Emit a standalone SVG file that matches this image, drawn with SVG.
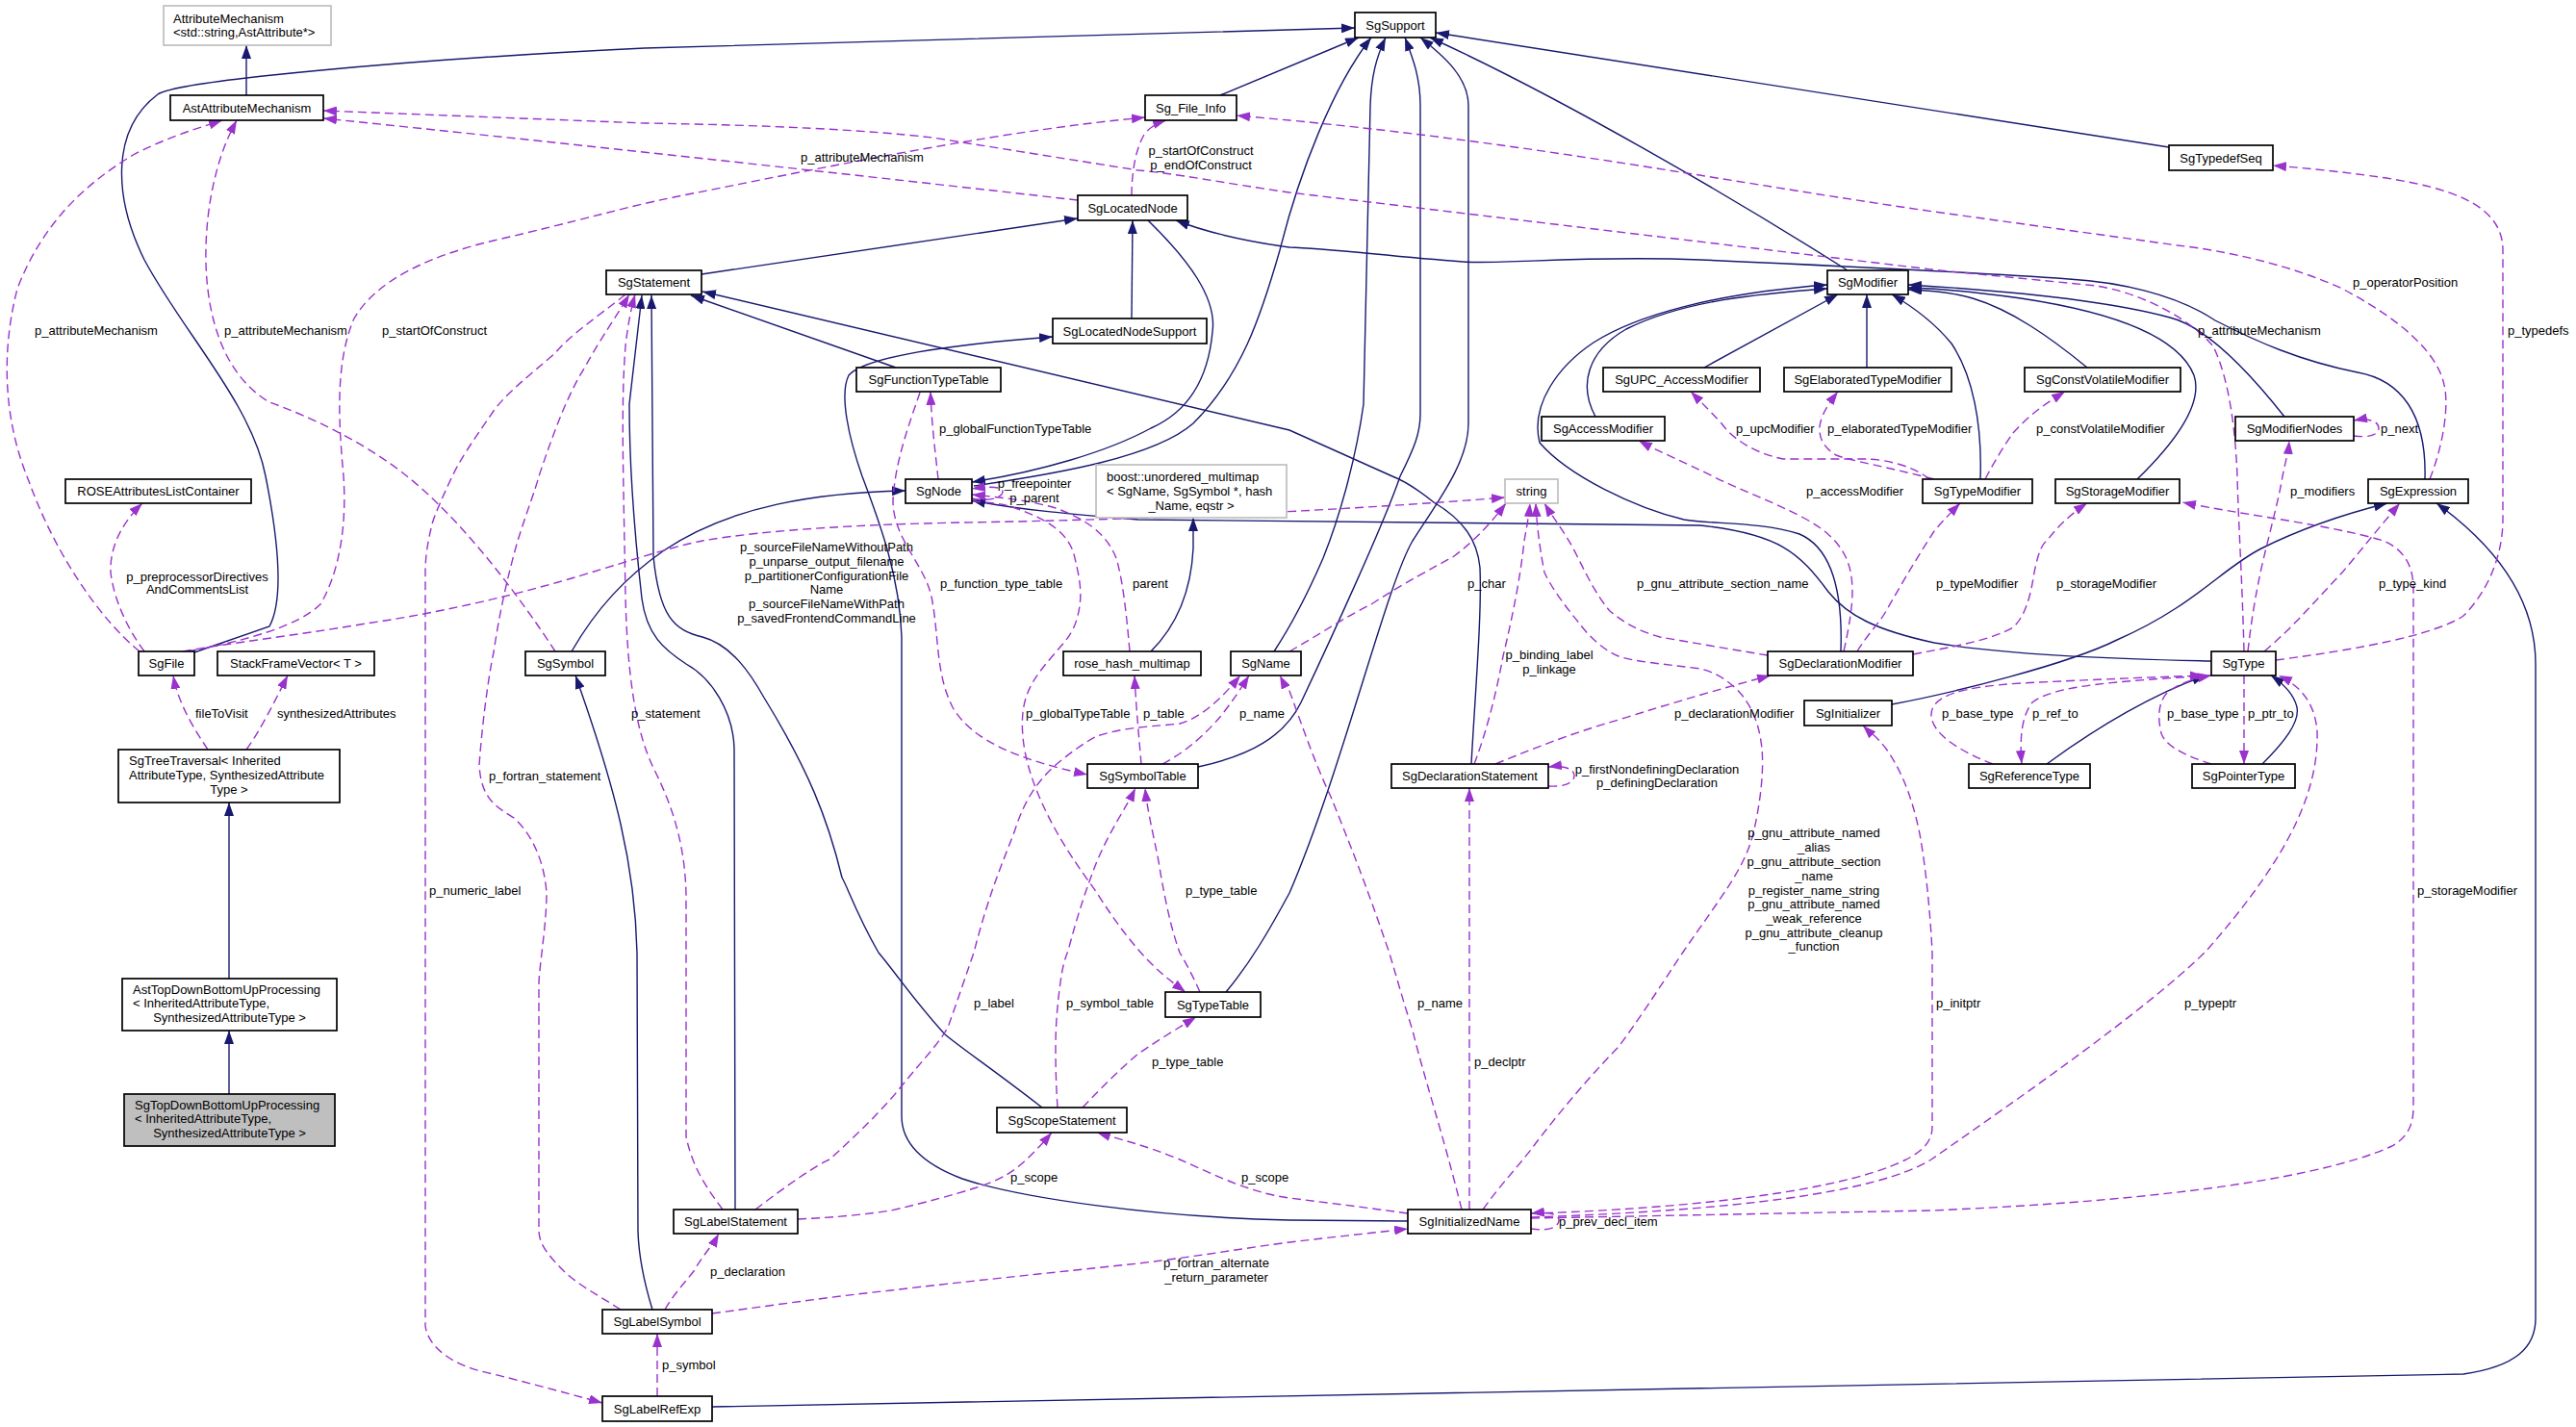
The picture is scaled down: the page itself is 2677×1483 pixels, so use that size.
<svg xmlns="http://www.w3.org/2000/svg" width="2677" height="1483" viewBox="0 0 2677 1483">
<style>
text{font-family:"Liberation Sans",Arial,sans-serif;font-size:13px;fill:#000}
.node rect{fill:#fff;stroke:#000;stroke-width:1.7}
.node.ext rect{stroke:#bfbfbf}
.node.cur rect{fill:#bfbfbf}
.node text{text-anchor:middle}
.node text.l{text-anchor:start}
.inh{fill:none;stroke:#191970;stroke-width:1.4;marker-end:url(#an)}
.use{fill:none;stroke:#9a32cd;stroke-width:1.4;stroke-dasharray:9,5;marker-end:url(#ap)}
.lbl text{text-anchor:start}
.lbl text.m{text-anchor:middle}
</style>
<defs>
<marker id="an" viewBox="0 0 14 10" refX="14" refY="5" markerWidth="14" markerHeight="10" markerUnits="userSpaceOnUse" orient="auto"><path d="M0,0 L14,5 L0,10 z" fill="#191970"/></marker>
<marker id="ap" viewBox="0 0 14 10" refX="14" refY="5" markerWidth="14" markerHeight="10" markerUnits="userSpaceOnUse" orient="auto"><path d="M0,0 L14,5 L0,10 z" fill="#9a32cd"/></marker>
</defs>
<rect width="2677" height="1483" fill="#fff"/>
<g id="edges">
<path class="inh" d="M256,99 L256,47"/>
<path class="inh" d="M238,1017 L238,834"/>
<path class="inh" d="M238,1137 L238,1071"/>
<path class="inh" d="M202,678 L280,651 C294,625 291,570 276,495 C262,420 190,345 150,270 C118,205 115,135 164,98 C185,84 420,62 670,50 L1408,29"/>
<path class="inh" d="M1268,99 L1412,39"/>
<path class="inh" d="M1012,505 C1100,492 1200,475 1240,440 C1290,390 1310,330 1330,260 C1350,180 1385,90 1425,39"/>
<path class="inh" d="M1193,229 C1235,270 1265,310 1260,345 C1255,400 1230,430 1196,445 C1150,470 1080,490 1010,501"/>
<path class="inh" d="M1324,677 C1345,645 1362,610 1375,580 C1395,530 1410,470 1417,420 L1424,110 C1425,80 1430,60 1440,39"/>
<path class="inh" d="M1245,797 C1300,785 1335,765 1352,730 C1385,660 1440,540 1455,495 C1470,465 1476,450 1476,430 L1476,110 C1476,80 1468,60 1460,39"/>
<path class="inh" d="M1274,1031 C1300,1000 1320,965 1340,928 C1395,800 1440,610 1468,562 C1495,520 1526,480 1526,440 L1526,110 C1526,80 1500,58 1476,39"/>
<path class="inh" d="M1920,281 C1800,205 1620,100 1486,39"/>
<path class="inh" d="M2254,153 L1492,34"/>
<path class="inh" d="M729,285 L1120,227"/>
<path class="inh" d="M1176,331 L1177,229"/>
<path class="inh" d="M2520,498 C2522,430 2495,395 2450,387 C2390,375 2345,355 2302,333 C2260,305 2200,293 2150,290 C2050,283 1950,278 1767,270 C1650,265 1560,275 1520,272 C1440,266 1380,258 1340,257 C1290,250 1255,242 1222,229"/>
<path class="inh" d="M931,382 L718,307"/>
<path class="inh" d="M1529,794 C1533,720 1540,640 1538,590 C1535,560 1520,540 1490,522 C1475,510 1460,500 1447,495 L1340,447 L730,303"/>
<path class="inh" d="M764,1257 L763,778 C762,740 740,705 713,690 C690,675 672,660 667,622 C660,560 654,480 654,420 L667,307"/>
<path class="inh" d="M1083,1151 C1030,1110 1000,1090 982,1075 C950,1040 930,1010 913,990 C890,950 880,920 875,912 C860,850 840,800 794,725 C780,700 760,670 730,662 C700,655 685,640 679,578 L677,307"/>
<path class="inh" d="M1463,1269 L1340,1268 C1200,1265 1060,1245 1000,1225 C955,1208 937,1185 937,1160 L937,662 C935,600 915,545 896,495 C882,455 872,410 882,390 C900,370 990,358 1094,350"/>
<path class="inh" d="M594,677 C620,632 650,600 690,572 C760,525 850,512 941,510"/>
<path class="inh" d="M678,1361 C670,1335 664,1310 663,1280 L662,990 C660,900 640,820 598,702"/>
<path class="inh" d="M740,1462 L2560,1428 C2615,1420 2635,1400 2635,1370 L2635,690 C2635,620 2590,565 2532,523"/>
<path class="inh" d="M1966,732 C2030,720 2150,690 2200,665 C2280,630 2310,590 2350,570 C2400,545 2445,532 2481,523"/>
<path class="inh" d="M2298,687 C2200,685 2080,680 2010,668 C1950,655 1920,640 1900,615 C1870,575 1850,555 1767,546 L1183,540 C1120,535 1060,530 1010,520"/>
<path class="inh" d="M1913,677 C1915,620 1905,570 1870,555 C1830,542 1780,545 1750,540 C1700,528 1630,495 1600,460 C1590,420 1620,380 1656,356 C1700,328 1780,305 1899,296"/>
<path class="inh" d="M1658,433 C1640,400 1650,365 1690,342 C1750,312 1830,305 1899,300"/>
<path class="inh" d="M1771,382 L1910,306"/>
<path class="inh" d="M1940,382 L1940,306"/>
<path class="inh" d="M2058,498 C2060,440 2050,390 2028,357 C2010,335 1990,320 1966,306"/>
<path class="inh" d="M2169,382 C2130,350 2090,322 2050,310 C2030,304 2010,302 1983,301"/>
<path class="inh" d="M2221,498 C2260,460 2290,420 2280,390 C2262,345 2180,322 2100,310 C2050,303 2020,300 1983,299"/>
<path class="inh" d="M2374,433 C2340,390 2295,340 2255,330 C2200,315 2100,303 1983,296"/>
<path class="inh" d="M1196,677 C1225,648 1238,610 1240,570 L1240,538"/>
<path class="inh" d="M2127,794 C2180,755 2240,720 2292,702"/>
<path class="inh" d="M2351,794 C2375,770 2390,750 2387,735 C2384,722 2375,712 2360,702"/>

<path class="use" d="M145,677 C100,640 55,570 30,500 C5,440 0,370 18,300 C45,230 90,190 140,160 C180,140 210,132 231,125"/>
<path class="use" d="M577,677 C540,620 480,540 423,495 C380,460 320,432 280,418 C215,380 205,280 220,200 C228,160 238,140 246,125"/>
<path class="use" d="M195,677 C260,665 310,650 333,628 C355,590 360,540 357,495 C352,440 348,380 367,333 C390,290 450,265 513,250 C600,230 650,215 700,205 C900,165 1050,135 1190,122"/>
<path class="use" d="M190,677 C240,668 310,660 380,648 C450,638 520,622 580,605 C640,588 690,570 730,562 C800,550 900,545 1000,543 C1200,540 1400,530 1564,517"/>
<path class="use" d="M150,677 C130,650 118,620 115,595 C114,570 125,545 148,523"/>
<path class="use" d="M216,779 C200,755 185,730 180,702"/>
<path class="use" d="M256,779 C270,760 285,730 299,702"/>
<path class="use" d="M1120,208 C900,183 600,150 336,123"/>
<path class="use" d="M2332,677 C2330,600 2326,540 2325,495 C2322,420 2310,380 2300,360 C2280,335 2230,305 2178,297 L2007,280 L1340,200 C1270,190 1220,180 1183,177 L969,143 C900,135 800,130 670,128 L336,115"/>
<path class="use" d="M1176,203 C1176,180 1180,155 1189,140 C1195,132 1202,128 1212,125"/>
<path class="use" d="M1010,518 C1030,522 1042,516 1042,511 C1042,506 1030,505 1010,508"/>
<path class="use" d="M1174,677 C1170,630 1166,600 1160,580 C1150,555 1130,540 1097,528 C1070,520 1040,517 1010,514"/>
<path class="use" d="M956,408 C945,440 930,480 928,520 C928,560 960,585 968,620 C976,660 972,700 990,735 C1010,770 1060,790 1130,805"/>
<path class="use" d="M975,498 C972,470 968,440 967,407"/>
<path class="use" d="M1010,521 C1030,522 1045,524 1055,528 C1090,540 1112,555 1117,580 C1123,605 1125,620 1120,640 C1115,660 1105,668 1097,678 C1078,700 1066,715 1063,740 C1060,770 1068,800 1080,828 C1098,870 1120,900 1140,928 C1160,960 1180,985 1195,1000 C1210,1015 1220,1022 1232,1031"/>
<path class="use" d="M1186,794 C1184,770 1181,740 1179,702"/>
<path class="use" d="M1208,794 C1235,780 1255,760 1268,745 C1280,730 1290,715 1298,702"/>
<path class="use" d="M785,1257 C820,1230 850,1210 862,1205 C890,1180 920,1150 935,1131 C960,1100 980,1080 986,1065 C995,1040 1005,1010 1012,990 C1030,920 1045,890 1055,862 C1065,830 1080,810 1097,795 C1115,780 1130,770 1140,765 C1170,755 1200,755 1226,752 C1250,745 1270,725 1289,702"/>
<path class="use" d="M1519,1257 C1500,1180 1480,1120 1468,1071 C1455,1030 1450,1010 1443,988 C1420,920 1400,870 1383,828 C1365,790 1350,745 1340,718 C1336,712 1333,708 1330,702"/>
<path class="use" d="M1340,677 C1370,660 1400,640 1425,628 C1460,605 1490,590 1511,578 C1535,560 1552,540 1565,523"/>
<path class="use" d="M1532,794 C1545,760 1555,720 1562,682 C1572,640 1580,600 1584,562 C1587,545 1589,535 1590,523"/>
<path class="use" d="M1837,681 C1800,675 1760,668 1725,662 C1700,655 1685,645 1673,635 C1660,620 1650,600 1639,578 C1628,555 1615,540 1605,523"/>
<path class="use" d="M1541,1257 C1560,1230 1580,1210 1596,1188 C1625,1150 1660,1110 1682,1088 C1710,1050 1735,1010 1750,988 C1790,930 1815,900 1823,862 C1830,830 1833,800 1831,778 C1828,750 1820,735 1810,722 C1795,705 1780,698 1767,695 C1730,690 1700,688 1682,682 C1665,675 1650,660 1639,645 C1625,628 1612,610 1605,595 C1600,570 1597,545 1596,523"/>
<path class="use" d="M1554,794 C1600,775 1640,760 1682,748 C1740,730 1790,715 1840,702"/>
<path class="use" d="M1609,817 C1625,818 1636,814 1636,806 C1636,799 1625,795 1609,797"/>
<path class="use" d="M1916,677 C1922,650 1925,630 1925,615 C1925,585 1916,560 1874,538 C1840,520 1810,510 1780,495 C1750,480 1725,470 1703,458"/>
<path class="use" d="M1930,677 C1940,660 1955,645 1960,635 C1980,600 1995,575 2010,552 C2020,540 2030,530 2037,523"/>
<path class="use" d="M1988,680 C2030,672 2070,665 2092,652 C2105,640 2110,620 2114,595 C2118,575 2122,565 2127,562 C2140,545 2155,532 2169,523"/>
<path class="use" d="M2005,498 C1990,485 1960,477 1938,477 L1853,477 C1820,470 1800,455 1789,440 C1775,425 1765,415 1757,407"/>
<path class="use" d="M2010,498 C1960,485 1920,478 1908,473 C1895,465 1890,455 1891,443 C1893,430 1900,420 1910,407"/>
<path class="use" d="M2063,498 C2075,475 2085,460 2092,450 C2110,430 2125,420 2146,407"/>
<path class="use" d="M1591,1266 L2007,1258 C2200,1250 2400,1230 2486,1191 C2505,1180 2508,1165 2508,1150 L2508,612 C2508,590 2500,572 2477,562 C2420,545 2330,535 2268,522"/>
<path class="use" d="M1591,1265 C1800,1258 1950,1240 2007,1205 C2100,1140 2230,1050 2293,988 C2370,900 2410,830 2408,760 C2406,735 2395,715 2368,702"/>
<path class="use" d="M1591,1261 C1700,1258 1900,1245 1981,1205 C2000,1195 2008,1185 2008,1171 L2008,990 C2005,930 1998,880 1994,862 C1985,820 1972,795 1960,778 C1950,765 1942,760 1936,754"/>
<path class="use" d="M1591,1277 C1610,1280 1620,1275 1620,1268 C1620,1262 1610,1259 1591,1261"/>
<path class="use" d="M1527,1257 L1527,819"/>
<path class="use" d="M1463,1261 C1420,1255 1380,1250 1340,1245 C1300,1240 1260,1220 1226,1205 C1190,1190 1160,1183 1140,1177"/>
<path class="use" d="M829,1267 C870,1265 900,1262 926,1258 C960,1250 990,1242 1012,1235 C1035,1228 1045,1222 1055,1215 C1070,1203 1082,1190 1093,1177"/>
<path class="use" d="M1099,1151 C1097,1120 1097,1100 1097,1088 C1097,1060 1100,1035 1102,1021 C1104,1005 1107,995 1110,988 C1120,950 1130,920 1140,895 C1155,860 1170,840 1180,819"/>
<path class="use" d="M1125,1151 C1145,1130 1165,1110 1183,1095 C1205,1080 1225,1068 1243,1057"/>
<path class="use" d="M1247,1031 C1240,1015 1232,1000 1226,990 C1215,960 1208,920 1204,895 C1198,865 1192,840 1190,819"/>
<path class="use" d="M691,1361 C700,1345 710,1335 721,1321 C730,1305 740,1295 747,1282"/>
<path class="use" d="M740,1365 C800,1357 860,1348 926,1341 C1000,1332 1100,1322 1183,1313 C1250,1305 1300,1296 1340,1291 C1390,1285 1420,1282 1463,1277"/>
<path class="use" d="M683,1451 L683,1386"/>
<path class="use" d="M751,1257 C735,1235 720,1215 713,1181 L713,930 C712,880 700,840 680,800 C660,760 652,700 650,620 C648,500 645,420 650,360 C652,340 656,320 660,306"/>
<path class="use" d="M645,1361 C620,1345 600,1335 585,1320 C565,1300 560,1290 560,1278 L560,1021 C561,1000 568,960 568,928 C566,900 556,870 534,850 C515,838 500,830 498,795 C502,740 510,690 513,678 C520,630 530,590 538,562 C548,530 556,510 560,495 C575,450 590,410 607,383 C625,350 640,330 654,306"/>
<path class="use" d="M650,306 C620,330 590,350 577,367 C550,390 525,410 513,427 C490,460 478,478 470,495 C458,520 450,540 449,545 C444,565 442,580 442,595 L442,1378 C445,1400 470,1420 513,1428 C560,1440 590,1448 626,1458"/>
<path class="use" d="M2353,677 C2385,650 2410,620 2434,595 C2455,570 2475,545 2494,523"/>
<path class="use" d="M2365,686 C2450,675 2530,660 2560,640 C2590,610 2601,570 2601,540 L2601,260 C2601,210 2540,195 2480,185 C2430,178 2400,175 2362,172"/>
<path class="use" d="M2336,677 C2340,640 2345,615 2349,595 C2358,555 2368,520 2372,495 C2375,480 2378,470 2379,458"/>
<path class="use" d="M2446,453 C2462,455 2472,452 2472,445 C2472,438 2462,434 2446,437"/>
<path class="use" d="M2071,794 C2040,782 2010,765 2007,745 C2005,722 2040,714 2100,710 C2200,705 2260,703 2290,702"/>
<path class="use" d="M2298,702 C2200,708 2135,712 2112,730 C2100,745 2099,770 2101,794"/>
<path class="use" d="M2298,794 C2270,785 2250,775 2246,762 C2242,745 2243,730 2252,720 C2265,710 2280,705 2298,702"/>
<path class="use" d="M2332,702 L2332,794"/>
<path class="use" d="M2525,498 C2540,460 2545,420 2540,400 C2535,375 2510,340 2434,300 C2380,275 2310,260 2263,255 L2010,220 C1800,190 1600,150 1340,125 L1285,120"/>
</g>
<g id="edge-labels" class="lbl">
<text x="36" y="347.5">p_attributeMechanism</text>
<text x="233" y="347.5">p_attributeMechanism</text>
<text x="397" y="347.5">p_startOfConstruct</text>
<text x="832" y="167.5">p_attributeMechanism</text>
<text class="m" x="1248" y="160.5">p_startOfConstruct</text>
<text class="m" x="1248" y="175.5">p_endOfConstruct</text>
<text x="976" y="449.5">p_globalFunctionTypeTable</text>
<text x="1804" y="449.5">p_upcModifier</text>
<text x="1899" y="449.5">p_elaboratedTypeModifier</text>
<text x="2116" y="449.5">p_constVolatileModifier</text>
<text x="2474" y="449.5">p_next</text>
<text x="2445" y="297.5">p_operatorPosition</text>
<text x="2284" y="347.5">p_attributeMechanism</text>
<text x="2606" y="347.5">p_typedefs</text>
<text class="m" x="205" y="603.5">p_preprocessorDirectives</text>
<text class="m" x="205" y="617">AndCommentsList</text>
<text x="203" y="745.5">fileToVisit</text>
<text x="288" y="745.5">synthesizedAttributes</text>
<text x="508" y="810.5">p_fortran_statement</text>
<text x="446" y="929.5">p_numeric_label</text>
<text class="m" x="1075" y="506.5">p_freepointer</text>
<text class="m" x="1075" y="521.5">p_parent</text>
<text class="m" x="859" y="572.8">p_sourceFileNameWithoutPath</text>
<text class="m" x="859" y="587.8">p_unparse_output_filename</text>
<text class="m" x="859" y="603.2">p_partitionerConfigurationFile</text>
<text class="m" x="859" y="617.2">Name</text>
<text class="m" x="859" y="632.2">p_sourceFileNameWithPath</text>
<text class="m" x="859" y="647.2">p_savedFrontendCommandLine</text>
<text x="977" y="610.5">p_function_type_table</text>
<text x="1177" y="610.5">parent</text>
<text x="1066" y="745.5">p_globalTypeTable</text>
<text x="1188" y="745.5">p_table</text>
<text x="1288" y="745.5">p_name</text>
<text x="1232" y="929.5">p_type_table</text>
<text x="656" y="745.5">p_statement</text>
<text x="1877" y="514.5">p_accessModifier</text>
<text x="1525" y="610.5">p_char</text>
<text x="1701" y="610.5">p_gnu_attribute_section_name</text>
<text class="m" x="1610" y="684.5">p_binding_label</text>
<text class="m" x="1610" y="699.5">p_linkage</text>
<text x="1740" y="745.5">p_declarationModifier</text>
<text class="m" x="1722" y="803.5">p_firstNondefiningDeclaration</text>
<text class="m" x="1722" y="817.5">p_definingDeclaration</text>
<text class="m" x="1885" y="870.2">p_gnu_attribute_named</text>
<text class="m" x="1885" y="885.2">_alias</text>
<text class="m" x="1885" y="899.5">p_gnu_attribute_section</text>
<text class="m" x="1885" y="914.5">_name</text>
<text class="m" x="1885" y="929.5">p_register_name_string</text>
<text class="m" x="1885" y="943.8">p_gnu_attribute_named</text>
<text class="m" x="1885" y="958.5">_weak_reference</text>
<text class="m" x="1885" y="973.5">p_gnu_attribute_cleanup</text>
<text class="m" x="1885" y="987.8">_function</text>
<text x="2380" y="514.5">p_modifiers</text>
<text x="2012" y="610.5">p_typeModifier</text>
<text x="2137" y="610.5">p_storageModifier</text>
<text x="2472" y="610.5">p_type_kind</text>
<text x="2018" y="745.5">p_base_type</text>
<text x="2112" y="745.5">p_ref_to</text>
<text x="2252" y="745.5">p_base_type</text>
<text x="2336" y="745.5">p_ptr_to</text>
<text x="2512" y="929.5">p_storageModifier</text>
<text x="1012" y="1046.5">p_label</text>
<text x="1108" y="1046.5">p_symbol_table</text>
<text x="1197" y="1107.5">p_type_table</text>
<text x="1050" y="1227.5">p_scope</text>
<text x="1290" y="1227.5">p_scope</text>
<text x="738" y="1325.5">p_declaration</text>
<text class="m" x="1264" y="1316.8">p_fortran_alternate</text>
<text class="m" x="1264" y="1332.2">_return_parameter</text>
<text x="688" y="1422.5">p_symbol</text>
<text x="1473" y="1046.5">p_name</text>
<text x="1532" y="1107.5">p_declptr</text>
<text x="1620" y="1273.5">p_prev_decl_item</text>
<text x="2012" y="1046.5">p_initptr</text>
<text x="2270" y="1046.5">p_typeptr</text>
</g>
<g id="n-AttributeMechanism" class="node ext"><rect x="170" y="6" width="174" height="41"/><text class="l" x="180" y="23.5">AttributeMechanism</text><text class="l" x="180" y="37.5">&lt;std::string,AstAttribute*&gt;</text></g>
<g id="n-AstAttributeMechanism" class="node"><rect x="177" y="99" width="159" height="26"/><text x="256.5" y="116.5">AstAttributeMechanism</text></g>
<g id="n-SgSupport" class="node"><rect x="1408" y="13" width="84" height="26"/><text x="1450" y="30.5">SgSupport</text></g>
<g id="n-Sg_File_Info" class="node"><rect x="1190" y="99" width="95" height="26"/><text x="1237.5" y="116.5">Sg_File_Info</text></g>
<g id="n-SgLocatedNode" class="node"><rect x="1120" y="203" width="114" height="26"/><text x="1177" y="220.5">SgLocatedNode</text></g>
<g id="n-SgStatement" class="node"><rect x="630" y="281" width="99" height="25"/><text x="679.5" y="298">SgStatement</text></g>
<g id="n-SgLocatedNodeSupport" class="node"><rect x="1094" y="331" width="160" height="26"/><text x="1174" y="348.5">SgLocatedNodeSupport</text></g>
<g id="n-SgFunctionTypeTable" class="node"><rect x="890" y="382" width="150" height="25"/><text x="965" y="399">SgFunctionTypeTable</text></g>
<g id="n-SgModifier" class="node"><rect x="1899" y="281" width="84" height="25"/><text x="1941" y="298">SgModifier</text></g>
<g id="n-SgUPC_AccessModifier" class="node"><rect x="1666" y="382" width="163" height="25"/><text x="1747.5" y="399">SgUPC_AccessModifier</text></g>
<g id="n-SgElaboratedTypeModifier" class="node"><rect x="1854" y="382" width="174" height="25"/><text x="1941" y="399">SgElaboratedTypeModifier</text></g>
<g id="n-SgConstVolatileModifier" class="node"><rect x="2104" y="382" width="162" height="25"/><text x="2185" y="399">SgConstVolatileModifier</text></g>
<g id="n-SgAccessModifier" class="node"><rect x="1602" y="433" width="128" height="25"/><text x="1666" y="450">SgAccessModifier</text></g>
<g id="n-SgTypedefSeq" class="node"><rect x="2254" y="151" width="108" height="26"/><text x="2308" y="168.5">SgTypedefSeq</text></g>
<g id="n-SgModifierNodes" class="node"><rect x="2323" y="433" width="123" height="25"/><text x="2384.5" y="450">SgModifierNodes</text></g>
<g id="n-ROSEAttributesListContainer" class="node"><rect x="68" y="498" width="193" height="25"/><text x="164.5" y="515">ROSEAttributesListContainer</text></g>
<g id="n-SgNode" class="node"><rect x="941" y="498" width="69" height="25"/><text x="975.5" y="515">SgNode</text></g>
<g id="n-boost_unordered_multimap" class="node ext"><rect x="1139" y="483" width="198" height="55"/><text class="l" x="1150" y="499.5">boost::unordered_multimap</text><text class="l" x="1150" y="514.5">&lt; SgName, SgSymbol *, hash</text><text x="1238" y="529.5">_Name, eqstr &gt;</text></g>
<g id="n-string" class="node ext"><rect x="1564" y="498" width="55" height="25"/><text x="1591.5" y="515">string</text></g>
<g id="n-SgTypeModifier" class="node"><rect x="1998" y="498" width="114" height="25"/><text x="2055" y="515">SgTypeModifier</text></g>
<g id="n-SgStorageModifier" class="node"><rect x="2136" y="498" width="129" height="25"/><text x="2200.5" y="515">SgStorageModifier</text></g>
<g id="n-SgExpression" class="node"><rect x="2461" y="498" width="104" height="25"/><text x="2513" y="515">SgExpression</text></g>
<g id="n-SgFile" class="node"><rect x="144" y="677" width="58" height="25"/><text x="173" y="694">SgFile</text></g>
<g id="n-StackFrameVector" class="node"><rect x="226" y="677" width="163" height="25"/><text x="307.5" y="694">StackFrameVector&lt; T &gt;</text></g>
<g id="n-SgSymbol" class="node"><rect x="546" y="677" width="83" height="25"/><text x="587.5" y="694">SgSymbol</text></g>
<g id="n-rose_hash_multimap" class="node"><rect x="1105" y="677" width="143" height="25"/><text x="1176.5" y="694">rose_hash_multimap</text></g>
<g id="n-SgName" class="node"><rect x="1279" y="677" width="73" height="25"/><text x="1315.5" y="694">SgName</text></g>
<g id="n-SgDeclarationModifier" class="node"><rect x="1837" y="677" width="151" height="25"/><text x="1912.5" y="694">SgDeclarationModifier</text></g>
<g id="n-SgType" class="node"><rect x="2298" y="677" width="67" height="25"/><text x="2331.5" y="694">SgType</text></g>
<g id="n-SgInitializer" class="node"><rect x="1875" y="728" width="91" height="26"/><text x="1920.5" y="745.5">SgInitializer</text></g>
<g id="n-SgTreeTraversal" class="node"><rect x="123" y="779" width="230" height="55"/><text class="l" x="134" y="795">SgTreeTraversal&lt; Inherited</text><text class="l" x="134" y="810">AttributeType, SynthesizedAttribute</text><text x="238" y="825">Type &gt;</text></g>
<g id="n-SgSymbolTable" class="node"><rect x="1130" y="794" width="115" height="25"/><text x="1187.5" y="811">SgSymbolTable</text></g>
<g id="n-SgDeclarationStatement" class="node"><rect x="1446" y="794" width="163" height="25"/><text x="1527.5" y="811">SgDeclarationStatement</text></g>
<g id="n-SgReferenceType" class="node"><rect x="2046" y="794" width="126" height="25"/><text x="2109" y="811">SgReferenceType</text></g>
<g id="n-SgPointerType" class="node"><rect x="2278" y="794" width="107" height="25"/><text x="2331.5" y="811">SgPointerType</text></g>
<g id="n-AstTopDownBottomUpProcessing" class="node"><rect x="127" y="1017" width="223" height="54"/><text class="l" x="138" y="1033">AstTopDownBottomUpProcessing</text><text class="l" x="138" y="1047">&lt; InheritedAttributeType,</text><text x="238.5" y="1062">SynthesizedAttributeType &gt;</text></g>
<g id="n-SgTopDownBottomUpProcessing" class="node cur"><rect x="129" y="1137" width="219" height="54"/><text class="l" x="140" y="1153">SgTopDownBottomUpProcessing</text><text class="l" x="140" y="1167">&lt; InheritedAttributeType,</text><text x="238.5" y="1182">SynthesizedAttributeType &gt;</text></g>
<g id="n-SgTypeTable" class="node"><rect x="1211" y="1031" width="99" height="26"/><text x="1260.5" y="1048.5">SgTypeTable</text></g>
<g id="n-SgScopeStatement" class="node"><rect x="1036" y="1151" width="135" height="26"/><text x="1103.5" y="1168.5">SgScopeStatement</text></g>
<g id="n-SgLabelStatement" class="node"><rect x="700" y="1257" width="129" height="25"/><text x="764.5" y="1274">SgLabelStatement</text></g>
<g id="n-SgInitializedName" class="node"><rect x="1463" y="1257" width="128" height="25"/><text x="1527" y="1274">SgInitializedName</text></g>
<g id="n-SgLabelSymbol" class="node"><rect x="626" y="1361" width="114" height="25"/><text x="683" y="1378">SgLabelSymbol</text></g>
<g id="n-SgLabelRefExp" class="node"><rect x="626" y="1451" width="114" height="26"/><text x="683" y="1468.5">SgLabelRefExp</text></g>
</svg>
